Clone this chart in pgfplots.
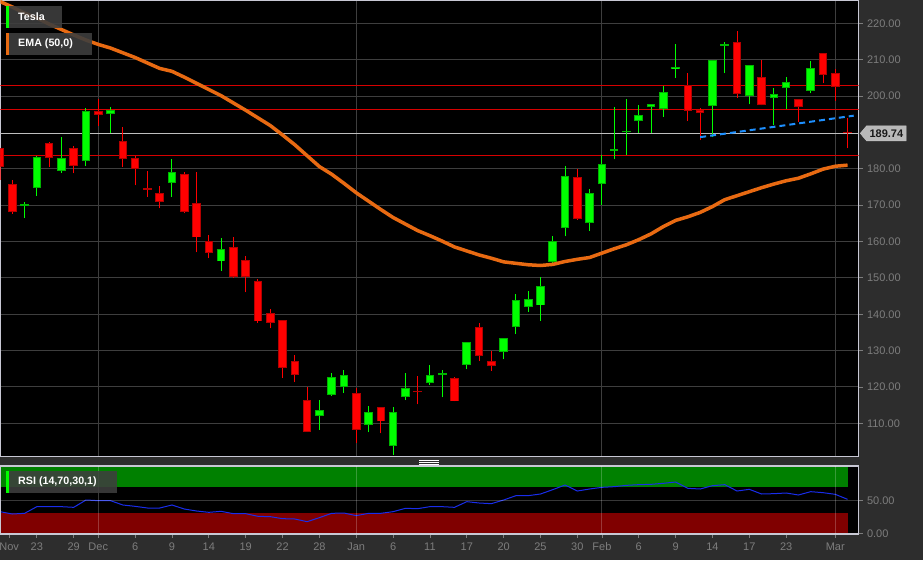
\documentclass[border=0pt]{standalone}
\usepackage{pgfplots}
\pgfplotsset{compat=1.18}
\usepackage{pgfplotstable}
\usepackage{fontspec}
\setmainfont{Liberation Sans}
\usetikzlibrary{shapes.symbols}

\definecolor{bg}{RGB}{45,45,45}
\definecolor{gridc}{RGB}{62,62,62}
\definecolor{upc}{RGB}{0,255,0}
\definecolor{upedge}{RGB}{0,180,0}
\definecolor{dnc}{RGB}{255,0,0}
\definecolor{dnedge}{RGB}{180,0,0}
\definecolor{emac}{RGB}{232,106,18}
\definecolor{trendc}{RGB}{30,144,255}
\definecolor{levelc}{RGB}{215,0,0}
\definecolor{pricec}{RGB}{190,190,190}
\definecolor{labelc}{RGB}{125,125,125}
\definecolor{framec}{RGB}{200,200,212}
\definecolor{boxc}{RGB}{62,62,62}
\definecolor{obband}{RGB}{0,128,0}
\definecolor{osband}{RGB}{128,0,0}
\definecolor{rsic}{RGB}{25,45,235}
\definecolor{tagc}{RGB}{185,185,185}
\definecolor{tagtext}{RGB}{25,25,25}

\newcommand{\tickfont}{\fontsize{11}{13}\selectfont}
\newcommand{\legfont}{\bfseries\fontsize{10.7}{12}\selectfont}

% daily candles, x = trading-day index (0 = 1 Dec): open high low close
\pgfplotstableread{
x o h l c
-6 169.8 171.0 166.4 170.3
-5 174.8 183.6 172.6 183.2
-3 179.5 188.7 178.9 183.0
-1 182.1 196.6 180.8 195.9
1 195.0 196.9 189.75 196.2
6 176.1 182.6 172.3 179.0
10 154.5 160.9 152.0 157.9
18 112.1 116.4 108.2 113.7
19 117.8 123.75 117.6 122.6
20 119.9 124.7 118.4 123.3
22 109.5 114.8 107.5 113.1
24 103.8 114.4 101.3 113.1
25 117.3 123.75 116.4 119.8
27 121.0 126.0 120.5 123.3
28 123.2 124.7 117.15 123.6
30 126.1 132.3 124.85 132.3
33 129.7 133.55 127.6 133.55
34 136.5 145.5 134.5 143.8
35 142.1 146.5 140.7 144.1
36 142.4 150.15 138.2 147.8
37 154.3 161.5 154.0 160.0
38 163.6 180.8 161.4 177.9
40 165.0 174.35 162.9 173.25
41 175.7 183.8 170.0 181.3
42 184.9 196.9 182.6 185.4
43 190.0 199.1 183.8 190.4
44 193.05 197.45 189.9 194.8
45 196.9 197.7 189.75 197.7
46 196.5 202.8 194.3 201.1
47 207.4 214.2 204.9 208.1
50 197.35 210.0 188.8 210.0
51 213.8 214.8 206.3 214.3
53 200.1 208.45 197.7 208.45
55 199.4 202.2 192.0 200.5
56 202.2 205.15 196.5 203.9
58 201.5 209.65 200.75 207.7
}\upcandles

\pgfplotstableread{
x o h l c
-8 185.6 185.8 176.9 180.6
-7 175.8 176.9 167.6 168.0
-4 187.0 187.3 180.6 183.1
-2 185.8 186.4 178.75 180.9
0 195.9 199.1 191.9 194.9
2 187.55 191.4 180.6 182.7
3 183.0 183.6 175.45 179.9
4 174.7 179.5 172.3 174.3
5 173.4 175.3 169.1 170.9
7 178.6 179.0 167.7 168.2
8 170.6 179.0 157.0 161.1
9 160.0 161.7 155.4 156.9
11 158.6 161.15 150.0 150.15
12 155.0 155.9 146.0 150.15
13 149.1 149.8 137.7 138.0
14 140.2 141.35 136.1 137.7
15 138.3 138.5 122.4 125.1
16 127.0 128.8 121.3 123.3
17 116.5 119.9 107.6 107.7
21 118.3 119.8 104.7 108.2
23 114.4 114.6 107.2 110.5
26 118.9 123.0 115.2 118.5
29 122.5 122.65 116.0 116.0
31 136.5 137.5 127.1 128.6
32 127.1 130.0 124.4 125.7
39 177.65 179.85 166.0 166.2
48 202.95 206.25 193.1 196.0
49 196.2 196.6 187.9 195.25
52 214.95 217.9 199.55 200.65
54 205.3 209.9 197.45 197.45
57 199.3 199.3 192.9 197.1
59 211.85 211.85 203.7 205.9
60 206.35 207.35 198.7 202.6
61 190.0 193.9 185.6 189.74
}\downcandles

% 50-day exponential moving average
\pgfplotstableread{
x ema
-8 226.0
-7 224.5
-6 222.8
-5 221.5
-4 219.8
-3 218.3
-2 216.8
-1 215.4
0 214.2
1 213.2
2 211.9
3 210.6
4 209.1
5 207.6
6 206.8
7 205.2
8 203.5
9 201.8
10 200.1
11 198.1
12 196.1
13 194.0
14 191.9
15 189.3
16 186.6
17 183.6
18 180.6
19 178.5
20 176.0
21 173.4
22 171.1
23 168.8
24 166.6
25 164.8
26 163.0
27 161.6
28 160.1
29 158.5
30 157.4
31 156.3
32 155.4
33 154.4
34 154.0
35 153.6
36 153.4
37 153.7
38 154.5
39 155.1
40 155.6
41 156.8
42 158.0
43 159.1
44 160.5
45 162.1
46 164.1
47 165.8
48 166.8
49 168.0
50 169.6
51 171.5
52 172.6
53 173.7
54 174.8
55 175.8
56 176.7
57 177.4
58 178.6
59 179.9
60 180.7
61 181.0
}\ematable

% RSI (14)
\pgfplotstableread{
x rsi
-8 32.5
-7 29
-6 30
-5 40
-4 40
-3 40
-2 39
-1 50
0 49
1 49
2 42.5
3 40.5
4 38
5 38
6 42.5
7 36.5
8 33.5
9 31.5
10 33
11 29.5
12 29.5
13 25.5
14 25
15 22
16 21.5
17 17.5
18 23.5
19 30
20 30.5
21 26.5
22 30
23 30
24 32.5
25 37.5
26 37
27 40
28 40
29 39
30 47.5
31 45.5
32 44.5
33 50
34 56.5
35 56.5
36 59
37 65.5
38 72.5
39 63.5
40 66.5
41 69
42 70
43 72
44 73
45 73.5
46 75
47 77
48 67.5
49 66.5
50 71.5
51 73
52 63.5
53 66
54 59
55 59.5
56 60.5
57 57.5
58 62.5
59 61
60 58.5
61 51
}\rsitable

\pgfplotsset{
  candlebar/.style 2 args={draw=none, mark=none, forget plot,
    error bars/.cd, y dir=plus, y explicit, error mark=none,
    error bar style={draw=#1, line width=#2}},
  panel/.style={scale only axis, anchor=south west,
    xmin=-7.96, xmax=61.89,
    axis background/.style={fill=black},
    axis line style={draw=framec, line width=1.2pt},
    tick align=outside, ytick pos=right,
    major tick length=4pt,
    y tick style={draw=labelc, line width=0.8pt},
    ticklabel style={font=\tickfont, text=labelc},
    yticklabel style={anchor=west, xshift=1pt},
    /pgf/number format/fixed, /pgf/number format/fixed zerofill,
    /pgf/number format/precision=2, /pgf/number format/assume math mode=true,
    clip mode=individual},
}

\begin{document}
\begin{tikzpicture}
\fill[bg] (0pt,0pt) rectangle (923pt,560pt);

% price panel
\begin{axis}[panel,
  at={(0.5pt,103.5pt)}, width=858pt, height=456pt,
  ymin=100.87, ymax=226.28,
  xtick={0,21,41,60}, xticklabels={}, x tick style={draw=none},
  xmajorgrids, ymajorgrids,
  % the 190 level sits under the last-price tag
  ytick={110,120,130,140,150,160,170,180,200,210,220},
  grid style={draw=gridc, line width=1pt},
]
\addplot[levelc, line width=1pt] coordinates {(-8.5,202.95) (62.5,202.95)};
\addplot[levelc, line width=1pt] coordinates {(-8.5,196.35) (62.5,196.35)};
\addplot[levelc, line width=1pt] coordinates {(-8.5,183.7) (62.5,183.7)};
\addplot[pricec, line width=1.3pt] coordinates {(-8.5,189.74) (62.5,189.74)};

% wicks
\addplot[candlebar={upc}{1pt}] table[x=x, y=l, y error plus expr=\thisrow{h}-\thisrow{l}] {\upcandles};
\addplot[candlebar={dnc}{1pt}] table[x=x, y=l, y error plus expr=\thisrow{h}-\thisrow{l}] {\downcandles};
% bodies: darker edge, bright inside
\addplot[candlebar={upedge}{8.6pt}] table[x=x, y expr={min(\thisrow{o},\thisrow{c})}, y error plus expr={max(abs(\thisrow{c}-\thisrow{o}),0.5)}] {\upcandles};
\addplot[candlebar={dnedge}{8.6pt}] table[x=x, y expr={min(\thisrow{o},\thisrow{c})}, y error plus expr={max(abs(\thisrow{c}-\thisrow{o}),0.5)}] {\downcandles};
\addplot[candlebar={upc}{6.6pt}] table[x=x, y expr={min(\thisrow{o},\thisrow{c})+0.27}, y error plus expr={max(abs(\thisrow{c}-\thisrow{o})-0.54,0)}] {\upcandles};
\addplot[candlebar={dnc}{6.6pt}] table[x=x, y expr={min(\thisrow{o},\thisrow{c})+0.27}, y error plus expr={max(abs(\thisrow{c}-\thisrow{o})-0.54,0)}] {\downcandles};

\addplot[emac, line width=3.5pt] table[x=x, y=ema] {\ematable};
\addplot[trendc, line width=2pt, dash pattern=on 6pt off 4pt] coordinates {(49,188.7) (61.5,194.6)};

\node[signal, signal to=west, signal pointer angle=100, fill=tagc, draw=tagc!80!white,
  inner xsep=3pt, inner ysep=0pt, minimum height=15pt, anchor=west,
  font=\bfseries\tickfont, text=tagtext] at (axis cs:61.89,189.74) [xshift=1.5pt] {189.74};
\end{axis}

% RSI panel
\begin{axis}[panel,
  at={(0.5pt,26pt)}, width=858pt, height=68pt,
  ymin=-1, ymax=101, axis on top,
  xtick pos=left,
  xtick={-7.25,-5,-2,0,3,6,9,12,15,18,21,24,27,30,33,36,39,41,44,47,50,53,56,60},
  xticklabels={Nov,23,29,Dec,6,9,14,19,22,28,Jan,6,11,17,20,25,30,Feb,6,9,14,17,23,Mar},
  typeset ticklabels with strut,
  xticklabel style={yshift=-0.3pt},
  yticklabel style={yshift=-1.6pt},
  x tick style={draw=labelc, line width=0.8pt},
  extra x ticks={0,21,41,60}, extra x tick labels={,,,},
  extra x tick style={grid=major, major tick length=0pt},
  ytick={0,50}, ymajorgrids,
  grid style={draw=white, draw opacity=0.22, line width=1pt},
]
\addplot[draw=none, fill=obband] coordinates {(-8.5,70) (61,70) (61,99) (-8.5,99)} -- cycle;
\addplot[draw=none, fill=osband] coordinates {(-8.5,0) (61,0) (61,30) (-8.5,30)} -- cycle;
\addplot[rsic, line width=1pt] table[x=x, y=rsi] {\rsitable};
\end{axis}

% series labels
\fill[boxc, opacity=0.9] (9pt,532.3pt) rectangle (62pt,554pt);
\fill[upc] (6pt,532.3pt) rectangle (9pt,554pt);
\node[anchor=west, text=white, font=\legfont, inner sep=0pt] at (18pt,543pt) {Tesla};
\fill[boxc, opacity=0.9] (9pt,505.3pt) rectangle (92pt,527pt);
\fill[emac] (6pt,505.3pt) rectangle (9pt,527pt);
\node[anchor=west, text=white, font=\legfont, inner sep=0pt] at (18pt,516pt) {EMA (50,0)};
\fill[boxc, opacity=0.88] (9pt,67.3pt) rectangle (117pt,89pt);
\fill[upc] (6pt,67.3pt) rectangle (9pt,89pt);
\node[anchor=west, text=white, font=\legfont, inner sep=0pt] at (18pt,78pt) {RSI (14,70,30,1)};

% panel resize handle
\foreach \yy in {100,98,96} \draw[white, line width=0.8pt] (419pt,\yy pt) -- (439pt,\yy pt);

\pgfresetboundingbox
\useasboundingbox (0pt,0pt) rectangle (923pt,560pt);
\end{tikzpicture}
\end{document}
